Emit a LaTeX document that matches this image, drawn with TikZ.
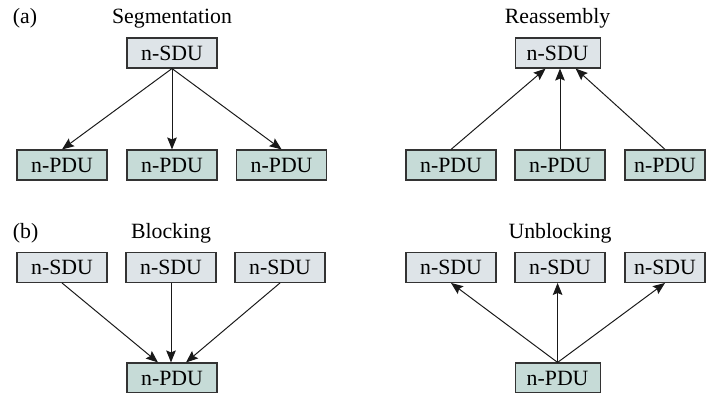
\documentclass[tikz,border=0pt]{standalone}
\usepackage{fontspec}
\setmainfont{Liberation Serif}
\usepackage{tikz}
\usetikzlibrary{arrows.meta,calc,positioning}

\begin{document}
\begin{tikzpicture}[font=\fontsize{15.5}{18}\selectfont,
		sdubox/.style={draw=black!80, line width=0.8pt, fill=sdufill, minimum width=2.25cm, minimum height=0.75cm, inner sep=0pt},
		pdubox/.style={draw=black!80, line width=0.8pt, fill=pdufill, minimum width=2.25cm, minimum height=0.75cm, inner sep=0pt},
		flow/.style={-{Stealth[length=3mm, width=2.4mm, inset=0.5mm]}, line width=0.7pt, black!90}]
		\definecolor{sdufill}{HTML}{DEE4E8}
		\definecolor{pdufill}{HTML}{C6DBD7}
		\useasboundingbox (0,0) rectangle (17.675,9.825);
		
		% (a) segmentation and reassembly
		\node[anchor=west] (la) at (0.2, 9.375) {(a)};
		\node[sdubox] (segsdu) at (4.3, 8.5) {n-SDU};
		\node[pdubox] (segpdu1) at (1.55, 5.7) {n-PDU};
		\node[pdubox] (segpdu2) at (4.3, 5.7) {n-PDU};
		\node[pdubox] (segpdu3) at (7.04, 5.7) {n-PDU};
		\node (segt) [above=0.1cm of segsdu] {Segmentation};
		
		\node[sdubox, minimum width=2.125cm] (reasdu) at (13.94, 8.5) {n-SDU};
		\node[pdubox] (reapdu1) at (11.275, 5.7) {n-PDU};
		\node[pdubox] (reapdu2) at (14.0, 5.7) {n-PDU};
		\node[pdubox, minimum width=2cm] (reapdu3) at (16.625, 5.7) {n-PDU};
		\node (reat) [above=0.1cm of reasdu] {Reassembly};
		
		\draw[flow] (segsdu.south) -- (segpdu1.north);
		\draw[flow] (segsdu.south) -- (segpdu2.north);
		\draw[flow] (segsdu.south) -- (segpdu3.north);
		\draw[flow] (reapdu1.north) -- ([xshift=-0.3cm]reasdu.south);
		\draw[flow] (reapdu2.north) -- (reapdu2.north |- reasdu.south);
		\draw[flow] (reapdu3.north) -- ([xshift=0.45cm]reasdu.south);
		
		% (b) blocking and unblocking
		\node[anchor=west] (lb) at (0.2, 4.0) {(b)};
		\node[sdubox] (blosdu1) at (1.55, 3.14) {n-SDU};
		\node[sdubox] (blosdu2) at (4.275, 3.14) {n-SDU};
		\node[sdubox] (blosdu3) at (7.0, 3.14) {n-SDU};
		\node[pdubox] (blopdu) at (4.3, 0.375) {n-PDU};
		\node (blot) [above=0.1cm of blosdu2] {Blocking};
		
		\node[sdubox] (unbsdu1) at (11.275, 3.14) {n-SDU};
		\node[sdubox] (unbsdu2) at (14.0, 3.14) {n-SDU};
		\node[sdubox, minimum width=2cm] (unbsdu3) at (16.625, 3.14) {n-SDU};
		\node[pdubox, minimum width=2.125cm] (unbpdu) at (13.94, 0.375) {n-PDU};
		\node (unbt) [above=0.1cm of unbsdu2] {Unblocking};
		
		\draw[flow] (blosdu1.south) -- ([xshift=-0.35cm]blopdu.north);
		\draw[flow] (blosdu2.south) -- (blosdu2.south |- blopdu.north);
		\draw[flow] (blosdu3.south) -- ([xshift=0.35cm]blopdu.north);
		\draw[flow] (unbpdu.north) -- (unbsdu1.south);
		\draw[flow] (unbpdu.north) -- (unbpdu.north |- unbsdu2.south);
		\draw[flow] (unbpdu.north) -- (unbsdu3.south);
	\end{tikzpicture}
\end{document}
